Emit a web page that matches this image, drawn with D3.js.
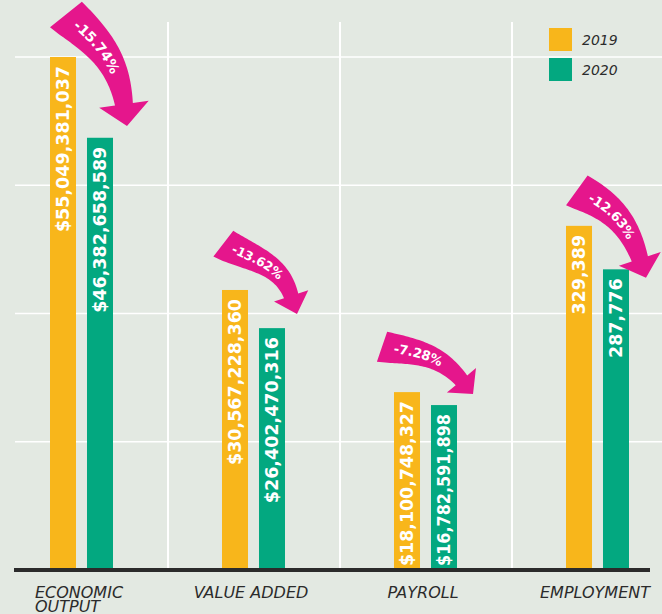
<!DOCTYPE html>
<html><head><meta charset="utf-8">
<script src="https://cdn.jsdelivr.net/npm/d3@7"></script>
<style>html,body{margin:0;padding:0;background:#e3e9e2;} svg{display:block}</style>
</head><body><svg id="chart" width="662" height="614"></svg>
<script>
// ---- data ----
const categories = ["ECONOMIC OUTPUT", "VALUE ADDED", "PAYROLL", "EMPLOYMENT"];
const categoryLines = [["ECONOMIC", "OUTPUT"], ["VALUE ADDED"], ["PAYROLL"], ["EMPLOYMENT"]];
const seriesNames = ["2019", "2020"];
const values2019 = [55049381037, 30567228360, 18100748327, 329389];
const values2020 = [46382658589, 26402470316, 16782591898, 287776];
const units = ["usd", "usd", "usd", "jobs"];
const changeLabels = ["-15.74%", "-13.62%", "-7.28%", "-12.63%"];
// each metric is drawn on its own vertical scale (domain maximum per group)
const axisMax = [55049381037, 56000000000, 52200000000, 491000];

// ---- style ----
const colors = {"2019": "#f8b61b", "2020": "#03a880"};
const bg = "#e3e9e2", magenta = "#e5168c", ink = "#2b2b2b";

// annotation arrow geometry (relative to group centre / 2019 bar top)
const arrowSpecs = [
  {s: [-13, -40], aS: 40, t: [45, 69], aH: 82, w0: 40, w1: 18, hw: 25, hl: 22, skew: 8, off: 9, fs: 14},
  {s: [-28, -45], aS: 27, t: [43, 24], aH: 72, w0: 32, w1: 15, hw: 18, hl: 19, skew: 6, off: 7, fs: 12.5},
  {s: [-41, -45], aS: 8, t: [47, 2], aH: 50, w0: 31, w1: 15, hw: 19, hl: 18, skew: 6, off: 9, fs: 13},
  {s: [-18, -34], aS: 25, t: [48, 52], aH: 72, w0: 36, w1: 17, hw: 22, hl: 20, skew: 7, off: 11, fs: 13}
];

const svg = d3.select("#chart");
const W = 662, H = 614, yBase = 570, yTop = 57;
svg.append("rect").attr("width", W).attr("height", H).attr("fill", bg);

const x = d3.scaleBand().domain(categories).range([-4, 684]);
const xs = d3.scaleBand().domain(seriesNames).range([-32, 31]).paddingInner(0.297);
const yScales = axisMax.map(m => d3.scaleLinear().domain([0, m]).range([yBase, yTop]));
const yFor = i => yScales[i];
const cx = c => x(c) + x.bandwidth() / 2;

// gridlines
const g0 = yScales[0], gmax = g0.domain()[1];
svg.append("g").selectAll("line").data([1, 2, 3, 4].map(k => gmax * k / 4)).join("line")
  .attr("x1", 15).attr("x2", W).attr("y1", d => g0(d)).attr("y2", d => g0(d))
  .attr("stroke", "#ffffff").attr("stroke-width", 1.6);

// dividers
svg.append("g").selectAll("line").data(categories.slice(0, -1)).join("line")
  .attr("x1", d => x(d) + x.bandwidth()).attr("x2", d => x(d) + x.bandwidth())
  .attr("y1", 22).attr("y2", yBase).attr("stroke", "#ffffff").attr("stroke-width", 2);

// bars
const fmtUsd = d3.format("$,.0f"), fmtJobs = d3.format(",.0f");
const bars = [];
categories.forEach((c, i) => {
  [values2019[i], values2020[i]].forEach((v, j) => bars.push({c, i, s: seriesNames[j], v}));
});
const bg2 = svg.append("g");
bg2.selectAll("rect").data(bars).join("rect")
  .attr("x", d => cx(d.c) + xs(d.s)).attr("width", xs.bandwidth())
  .attr("y", d => yFor(d.i)(d.v)).attr("height", d => yBase - yFor(d.i)(d.v))
  .attr("fill", d => colors[d.s]);
bg2.selectAll("text").data(bars).join("text")
  .attr("transform", d => `translate(${cx(d.c) + xs(d.s) + xs.bandwidth() / 2},${yFor(d.i)(d.v) + 9}) rotate(-90)`)
  .attr("text-anchor", "end").attr("dy", "0.36em")
  .attr("font-family", "DejaVu Sans").attr("font-weight", "bold").attr("font-size", 17.5)
  .attr("fill", "#ffffff")
  .text(d => units[d.i] === "usd" ? fmtUsd(d.v) : fmtJobs(d.v))
  .each(function(d) {
    const avail = yBase - yFor(d.i)(d.v) - 9 - 4;
    const len = this.getComputedTextLength();
    if (len > avail) d3.select(this).attr("textLength", avail).attr("lengthAdjust", "spacingAndGlyphs");
  });

// baseline
svg.append("line").attr("x1", 14).attr("x2", 650).attr("y1", yBase).attr("y2", yBase)
  .attr("stroke", ink).attr("stroke-width", 4);

// arrows
const rad = a => a * Math.PI / 180;
function cubic(p0, p1, p2, p3, t) {
  const m = 1 - t;
  return [m*m*m*p0[0] + 3*m*m*t*p1[0] + 3*m*t*t*p2[0] + t*t*t*p3[0],
          m*m*m*p0[1] + 3*m*m*t*p1[1] + 3*m*t*t*p2[1] + t*t*t*p3[1]];
}
function cubicD(p0, p1, p2, p3, t) {
  const m = 1 - t;
  return [3*m*m*(p1[0]-p0[0]) + 6*m*t*(p2[0]-p1[0]) + 3*t*t*(p3[0]-p2[0]),
          3*m*m*(p1[1]-p0[1]) + 6*m*t*(p2[1]-p1[1]) + 3*t*t*(p3[1]-p2[1])];
}
const ag = svg.append("g");
arrowSpecs.forEach((a, i) => {
  const c = categories[i];
  const ox = cx(c), oy = yFor(i)(values2019[i]);
  const S = [ox + a.s[0], oy + a.s[1]];
  const T = [ox + a.t[0], oy + a.t[1]];
  const dH = [Math.cos(rad(a.aH)), Math.sin(rad(a.aH))];
  const dS = [Math.cos(rad(a.aS)), Math.sin(rad(a.aS))];
  const Hb = [T[0] - a.hl * dH[0], T[1] - a.hl * dH[1]];
  const dist = Math.hypot(Hb[0] - S[0], Hb[1] - S[1]);
  const k = 0.4 * dist;
  const P1 = [S[0] + k * dS[0], S[1] + k * dS[1]];
  const P2 = [Hb[0] - k * dH[0], Hb[1] - k * dH[1]];
  const N = 40, lower = [], upper = [];
  for (let n = 0; n <= N; n++) {
    const t = n / N;
    const p = cubic(S, P1, P2, Hb, t), d = cubicD(S, P1, P2, Hb, t);
    const L = Math.hypot(d[0], d[1]);
    const nx = -d[1] / L, ny = d[0] / L;
    const w = (a.w0 + (a.w1 - a.w0) * t) / 2;
    lower.push([p[0] + nx * w, p[1] + ny * w]);
    upper.push([p[0] - nx * w, p[1] - ny * w]);
  }
  // slanted tail cut: pull the lower tail corner backwards
  lower[0] = [lower[0][0] - a.skew * dS[0], lower[0][1] - a.skew * dS[1]];
  const nH = [-dH[1], dH[0]];
  const wingL = [Hb[0] + nH[0] * a.hw, Hb[1] + nH[1] * a.hw];
  const wingR = [Hb[0] - nH[0] * a.hw, Hb[1] - nH[1] * a.hw];
  const pts = lower.concat([wingL, T, wingR], upper.reverse());
  ag.append("path").attr("d", d3.line()(pts) + "Z").attr("fill", magenta);
  const id = "ap" + i;
  ag.append("path").attr("id", id).attr("fill", "none")
    .attr("d", `M${S}C${P1} ${P2} ${Hb}`);
  ag.append("text").attr("dy", "0.36em")
    .attr("font-family", "DejaVu Sans").attr("font-weight", "bold").attr("font-size", a.fs)
    .attr("fill", "#ffffff")
    .append("textPath").attr("href", "#" + id).attr("startOffset", a.off)
    .text(changeLabels[i]);
});

// category labels
const lg = svg.append("g").attr("font-family", "DejaVu Sans").attr("font-style", "italic")
  .attr("font-size", 16).attr("fill", ink);
categories.forEach((c, i) => {
  const t = lg.append("text").attr("y", 598);
  categoryLines[i].forEach((line, j) => {
    t.append("tspan").attr("x", 0).attr("dy", j === 0 ? 0 : 13.5).text(line);
  });
  const w = d3.max(t.selectAll("tspan").nodes(), n => n.getComputedTextLength());
  t.selectAll("tspan").attr("x", cx(c) - 3 - w / 2);
});

// legend
const leg = svg.append("g");
seriesNames.forEach((s, j) => {
  leg.append("rect").attr("x", 549).attr("y", 28 + j * 30).attr("width", 23).attr("height", 23).attr("fill", colors[s]);
  leg.append("text").attr("x", 582).attr("y", 45 + j * 30)
    .attr("font-family", "DejaVu Sans").attr("font-style", "italic").attr("font-size", 14)
    .attr("fill", ink).text(s);
});
</script></body></html>
